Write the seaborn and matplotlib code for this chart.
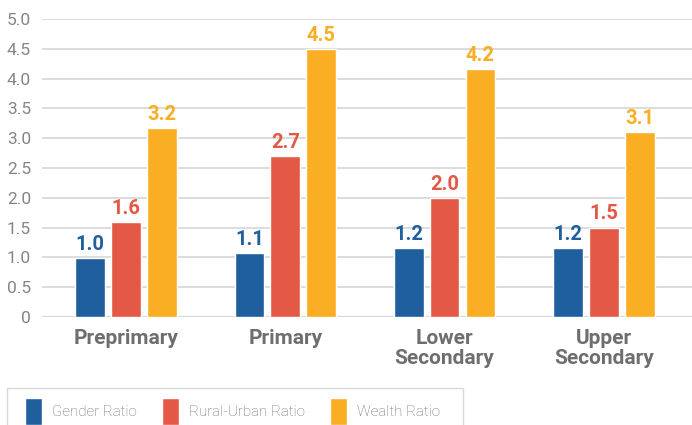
import matplotlib
matplotlib.use("Agg")
import matplotlib.pyplot as plt
from matplotlib.patches import Rectangle
import seaborn as sns
import pandas as pd

categories = ["Preprimary", "Primary", "Lower\nSecondary", "Upper\nSecondary"]
series = ["Gender Ratio", "Rural-Urban Ratio", "Wealth Ratio"]
gender = [0.99, 1.07, 1.16, 1.16]
rural_urban = [1.59, 2.70, 2.00, 1.50]
wealth = [3.17, 4.50, 4.16, 3.10]
yticks = [0, 0.5, 1.0, 1.5, 2.0, 2.5, 3.0, 3.5, 4.0, 4.5, 5.0]
ytick_labels = ["0", "0.5", "1.0", "1.5", "2.0", "2.5", "3.0", "3.5", "4.0", "4.5", "5.0"]
colors = ["#1f5f9e", "#e35945", "#f9ae24"]

rows = []
for s, vals in zip(series, [gender, rural_urban, wealth]):
    for c, v in zip(categories, vals):
        rows.append({"cat": c, "series": s, "value": v})
df = pd.DataFrame(rows)

sns.set_style("white")
plt.rcParams["font.family"] = ["Roboto", "DejaVu Sans"]

W, H = 692, 425
fig = plt.figure(figsize=(W/100, H/100), dpi=100)
ax = fig.add_axes([42/W, 1-317/H, 1-42/W, (317-19)/H])

sns.barplot(data=df, x="cat", y="value", hue="series", palette=colors,
            width=0.675, gap=0.17, ax=ax, legend=True, saturation=1)

for cont, col in zip(ax.containers, colors):
    for bar in cont:
        h = bar.get_height()
        ax.text(bar.get_x() + bar.get_width()/2, h + 0.07, f"{h:.1f}",
                ha="center", va="bottom", color=col, fontsize=14.5, fontweight="bold")

ax.set_ylim(0, 5.0)
ax.set_xlim(-0.527, 3.553)
ax.set_yticks(yticks)
ax.set_yticklabels(ytick_labels, color="#858585", fontsize=12.5)
ax.set_axisbelow(True)
ax.yaxis.grid(True, color="#d9d9d9", linewidth=1.3)
ax.axhline(0, color="#cfcfcf", linewidth=1.6, zorder=0.5)
for sp in ax.spines.values():
    sp.set_visible(False)
ax.tick_params(axis="x", length=0, pad=9)
ax.tick_params(axis="y", length=0, pad=8)
ax.set_xticks(range(len(categories)))
ax.set_xticklabels(categories, fontsize=15, fontweight="bold", color="#6e6e6e",
                   linespacing=1.0)
ax.set_xlabel("")
ax.set_ylabel("")

# legend frame (open at the bottom edge of the image)
frame = Rectangle((7/W, 1-440/H), (463-7)/W, (440-388)/H, transform=fig.transFigure,
                  facecolor="white", edgecolor="#d9d9d9", linewidth=1.0, zorder=0)
fig.patches.append(frame)

handles, labels = ax.get_legend_handles_labels()
ax.get_legend().remove()
fs = 10.9
fs_px = fs * 100 / 72
leg = fig.legend(handles, labels, loc="upper left", bbox_to_anchor=(25/W, 1-398/H),
                 ncol=3, frameon=False, handlelength=17/fs_px, handleheight=2.4,
                 columnspacing=25/fs_px, handletextpad=10/fs_px, borderpad=0,
                 borderaxespad=0, prop={"size": fs, "weight": "light"},
                 labelcolor="#6f6f6f")

fig.savefig("out.png", dpi=100)
